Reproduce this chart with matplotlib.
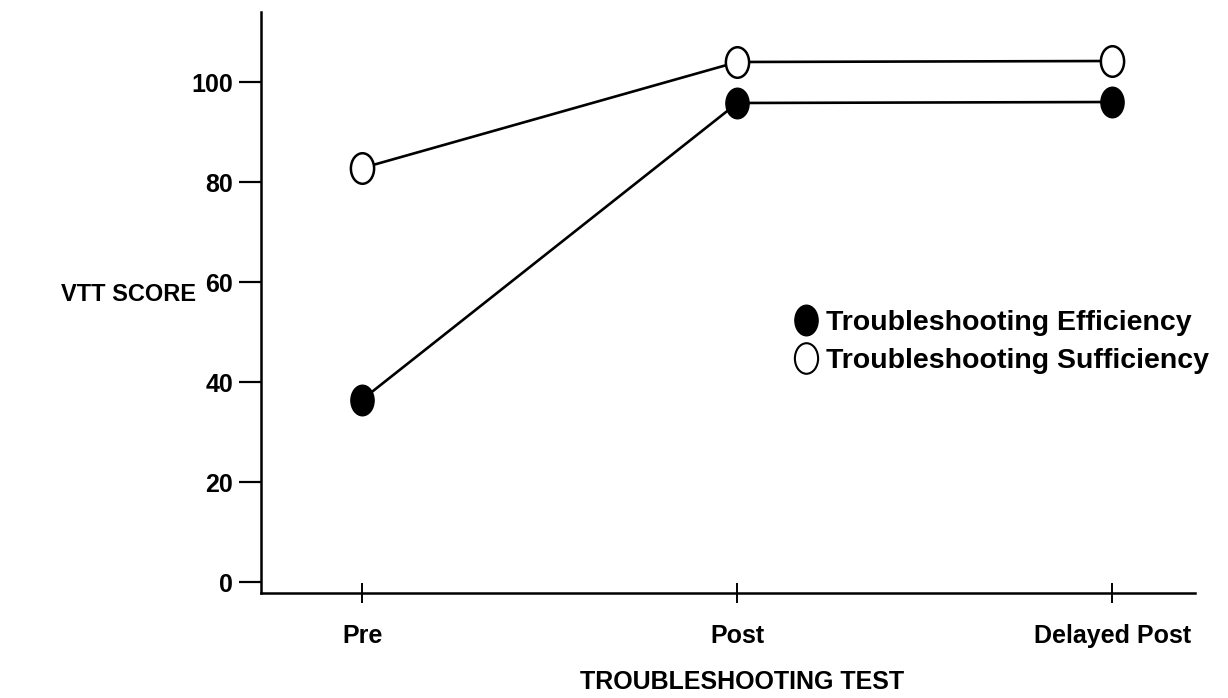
import matplotlib.pyplot as plt
from matplotlib.path import Path
from matplotlib.transforms import Affine2D
from matplotlib.lines import Line2D

plt.rcParams['font.family'] = ['Liberation Sans', 'DejaVu Sans']
plt.rcParams['font.weight'] = 'bold'

# data
tests = ['Pre', 'Post', 'Delayed Post']
efficiency = [36.5, 95.8, 96.0]
sufficiency = [82.8, 104.0, 104.2]
y_ticks = [0, 20, 40, 60, 80, 100]

# slightly tall ellipse used as the marker
ellipse = Path.unit_circle().transformed(Affine2D().scale(0.76, 1.0))

fig = plt.figure(figsize=(12.28, 6.98), dpi=100)
ax = fig.add_axes([261 / 1228, 1 - 593 / 698, (1195 - 261) / 1228, (593 - 12) / 698])

x = list(range(len(tests)))
ax.plot(x, sufficiency, color='black', lw=1.9, marker=ellipse, ms=22,
        mfc='white', mec='black', mew=1.8, zorder=3)
ax.plot(x, efficiency, color='black', lw=1.9, marker=ellipse, ms=22,
        mfc='black', mec='black', zorder=3)

ax.set_xlim(-0.27, 2.22)
ax.set_ylim(-2.2, 114)

for s in ['top', 'right']:
    ax.spines[s].set_visible(False)
for s in ['left', 'bottom']:
    ax.spines[s].set_linewidth(1.8)

ax.set_yticks(y_ticks)
ax.set_yticklabels([str(v) for v in y_ticks], fontsize=18, fontweight='bold')
ax.tick_params(axis='y', direction='out', length=16, width=1.6, pad=4)

ax.set_xticks(x)
ax.set_xticklabels(tests, fontsize=18, fontweight='bold')
ax.tick_params(axis='x', direction='inout', length=15, width=1.4, pad=15)

fig.text(196 / 1228, 1 - 294 / 698, 'VTT SCORE', fontsize=17, fontweight='bold',
         ha='right', va='center')
fig.text(742 / 1228, 1 - 682 / 698, 'TROUBLESHOOTING TEST', fontsize=18,
         fontweight='bold', ha='center', va='center')

handles = [
    Line2D([], [], ls='none', marker=ellipse, ms=22, mfc='black', mec='black'),
    Line2D([], [], ls='none', marker=ellipse, ms=22, mfc='white', mec='black', mew=1.5),
]
labels = ['Troubleshooting Efficiency', 'Troubleshooting Sufficiency']
fig.legend(handles, labels, loc='center left', bbox_to_anchor=(795 / 1228, 1 - 342 / 698),
           frameon=False, handlelength=0.8, handletextpad=0.3,
           labelspacing=0.45, borderpad=0, borderaxespad=0,
           prop={'weight': 'bold', 'size': 20.5})

fig.savefig('out.png', dpi=100)
